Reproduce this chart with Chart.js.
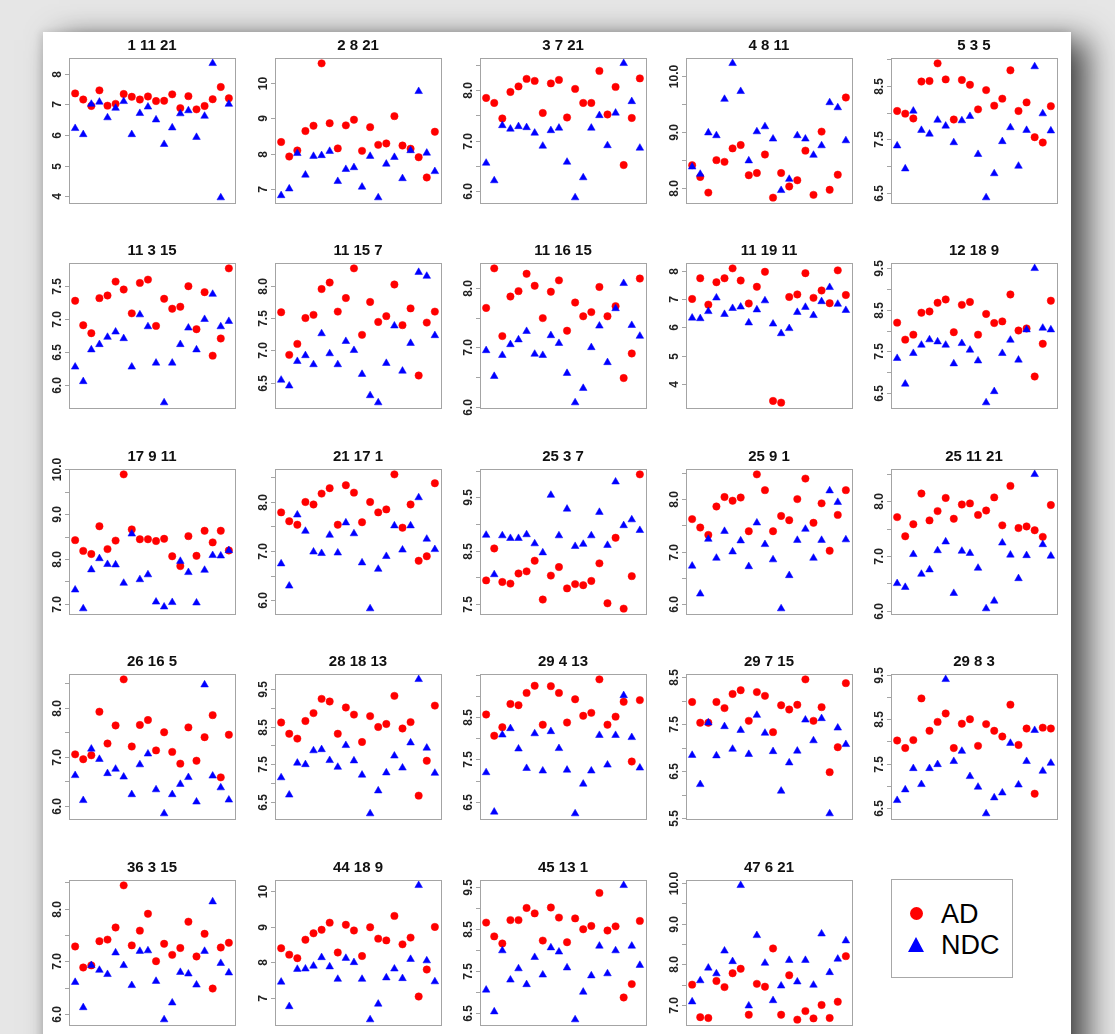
<!DOCTYPE html>
<html>
<head>
<meta charset="utf-8">
<title>AD vs NDC panels</title>
<script src="https://cdn.jsdelivr.net/npm/chart.js@4.4.1/dist/chart.umd.min.js"></script>
<style>
  html, body { margin: 0; padding: 0; }
  body {
    width: 1115px; height: 1034px; overflow: hidden; position: relative;
    background: #e6e6e6;
    font-family: "Liberation Sans", Arial, sans-serif;
  }
  #paper {
    position: absolute; left: 43px; top: 32px; width: 1028px; height: 1100px;
    background: #fff;
    box-shadow: 16px 8px 30px rgba(0, 0, 0, 0.7), -2px 0 8px rgba(0, 0, 0, 0.12);
  }
  canvas.panel { position: absolute; }
  #legend {
    position: absolute; left: 891px; top: 879px; width: 120px; height: 97px;
    border: 1px solid #a8a8a8; background: #fff;
  }
  #legend .dot {
    position: absolute; left: 18px; top: 27px; width: 13px; height: 13px;
    border-radius: 50%; background: #ff0000;
  }
  #legend .tri {
    position: absolute; left: 16px; top: 57px; width: 0; height: 0;
    border-left: 8.5px solid transparent; border-right: 8.5px solid transparent;
    border-bottom: 15px solid #0000ff;
  }
  #legend .txt {
    position: absolute; left: 49px; font-size: 27px; line-height: 27px; color: #000;
  }
</style>
</head>
<body>
<div id="paper"></div>
<div id="legend">
  <div class="dot"></div><div class="txt" style="top:21px">AD</div>
  <div class="tri"></div><div class="txt" style="top:52px">NDC</div>
</div>

<script>
// =============================
// Data
// =============================
const sampleIndex = [1, 2, 3, 4, 5, 6, 7, 8, 9, 10, 11, 12, 13, 14, 15, 16, 17, 18, 19, 20];

const panelTitles = [
  "1 11 21", "2 8 21", "3 7 21", "4 8 11", "5 3 5",
  "11 3 15", "11 15 7", "11 16 15", "11 19 11", "12 18 9",
  "17 9 11", "21 17 1", "25 3 7", "25 9 1", "25 11 21",
  "26 16 5", "28 18 13", "29 4 13", "29 7 15", "29 8 3",
  "36 3 15", "44 18 9", "45 13 1", "47 6 21"
];

const adValues = [
  [7.36, 7.16, 6.95, 7.46, 6.96, 7.02, 7.34, 7.25, 7.16, 7.26, 7.11, 7.12, 7.33, 6.88, 7.27, 6.84, 6.95, 7.17, 7.57, 7.20],
  [8.33, 7.92, 8.09, 8.64, 8.79, 10.55, 8.86, 8.15, 8.80, 8.96, 8.08, 8.75, 8.25, 8.29, 9.06, 8.23, 8.14, 7.90, 7.33, 8.62],
  [7.85, 7.75, 7.44, 7.97, 8.08, 8.23, 8.19, 7.55, 8.14, 8.21, 7.46, 8.03, 7.75, 7.75, 8.39, 7.52, 8.07, 6.51, 7.45, 8.24],
  [8.40, 8.19, 7.91, 8.49, 8.46, 8.70, 8.76, 8.22, 8.26, 8.59, 7.82, 8.26, 8.02, 8.13, 8.66, 7.87, 9.00, 7.96, 8.23, 9.61],
  [8.03, 7.98, 7.89, 8.58, 8.59, 8.92, 8.62, 7.87, 8.61, 8.52, 8.06, 8.42, 8.13, 8.26, 8.79, 8.03, 8.19, 7.54, 7.44, 8.12],
  [7.27, 6.90, 6.78, 7.31, 7.35, 7.56, 7.44, 7.08, 7.54, 7.59, 6.89, 7.30, 7.15, 7.18, 7.49, 6.84, 7.40, 6.44, 6.70, 7.76],
  [7.59, 6.93, 7.10, 7.50, 7.55, 7.95, 8.05, 7.60, 7.81, 8.27, 7.24, 7.75, 7.44, 7.53, 8.02, 7.39, 7.65, 6.61, 7.43, 7.60],
  [7.66, 8.32, 7.19, 7.85, 7.94, 8.23, 8.03, 7.49, 7.93, 8.12, 7.28, 7.75, 7.52, 7.59, 8.01, 7.52, 7.69, 6.49, 6.90, 8.15],
  [7.00, 7.73, 6.80, 7.59, 7.73, 8.08, 7.65, 6.84, 7.43, 7.96, 3.40, 3.34, 7.07, 7.16, 7.91, 7.04, 7.30, 6.85, 8.01, 7.14],
  [8.19, 7.78, 7.90, 8.43, 8.46, 8.67, 8.75, 7.96, 8.62, 8.69, 7.90, 8.40, 8.18, 8.22, 8.87, 8.00, 8.05, 6.89, 7.68, 8.72],
  [8.42, 8.18, 8.11, 8.73, 8.22, 8.41, 9.89, 8.66, 8.44, 8.44, 8.40, 8.45, 8.06, 7.84, 8.51, 8.07, 8.63, 8.37, 8.63, 8.19],
  [7.78, 7.60, 7.53, 7.99, 7.94, 8.16, 8.27, 7.53, 8.33, 8.18, 7.58, 7.99, 7.78, 7.84, 8.55, 7.47, 7.94, 6.80, 6.89, 8.37],
  [7.94, 8.54, 7.91, 7.88, 8.07, 8.11, 8.31, 7.58, 8.03, 8.19, 7.79, 7.87, 7.85, 7.93, 8.26, 7.51, 8.74, 7.41, 8.02, 9.93],
  [7.62, 7.46, 7.32, 7.86, 8.04, 7.97, 8.03, 7.39, 8.47, 8.17, 7.39, 7.68, 7.60, 8.00, 8.39, 7.55, 7.92, 7.02, 7.70, 8.17],
  [7.71, 7.36, 7.58, 8.14, 7.65, 7.82, 8.06, 7.68, 7.94, 7.96, 7.75, 7.83, 8.07, 7.56, 8.28, 7.51, 7.54, 7.47, 7.35, 7.93],
  [7.05, 6.95, 7.03, 7.92, 7.27, 7.64, 8.58, 7.21, 7.65, 7.75, 7.13, 7.50, 7.10, 6.86, 7.60, 6.92, 7.40, 7.85, 6.58, 7.45],
  [8.61, 8.31, 8.18, 8.65, 8.86, 9.24, 9.17, 8.31, 9.01, 8.82, 8.09, 8.78, 8.49, 8.57, 9.32, 8.45, 8.62, 6.66, 7.59, 9.06],
  [8.56, 8.06, 8.26, 8.81, 8.78, 9.07, 9.24, 8.32, 9.23, 9.07, 8.37, 8.92, 8.53, 8.60, 9.39, 8.32, 8.51, 8.86, 7.45, 8.90],
  [7.97, 7.53, 7.53, 7.97, 7.84, 8.14, 8.22, 7.57, 8.18, 8.10, 7.33, 7.90, 7.81, 7.91, 8.45, 7.57, 7.86, 6.48, 7.01, 8.37],
  [8.02, 7.85, 8.03, 8.97, 8.24, 8.44, 8.63, 7.85, 8.40, 8.50, 7.90, 8.39, 8.24, 8.11, 8.83, 7.92, 8.29, 6.82, 8.31, 8.29],
  [7.28, 6.88, 6.92, 7.38, 7.41, 7.64, 8.44, 7.30, 7.58, 7.90, 7.00, 7.33, 7.12, 7.25, 7.75, 7.09, 7.52, 6.48, 7.26, 7.35],
  [8.40, 8.22, 8.12, 8.64, 8.82, 8.92, 9.12, 8.28, 9.06, 8.90, 8.18, 8.99, 8.67, 8.62, 9.31, 8.51, 8.70, 7.04, 7.80, 9.00],
  [8.66, 8.33, 8.16, 8.72, 8.72, 9.01, 8.88, 8.23, 9.02, 8.78, 8.19, 8.76, 8.50, 8.58, 9.37, 8.47, 8.57, 6.87, 7.19, 8.70],
  [7.50, 6.70, 6.68, 7.59, 7.44, 7.78, 7.89, 6.76, 7.52, 7.45, 8.39, 6.76, 7.73, 6.64, 6.85, 6.67, 7.00, 6.68, 7.08, 8.20]
];

const ndcValues = [
  [6.22, 6.02, 7.01, 7.08, 6.57, 6.88, 7.10, 6.02, 6.71, 6.92, 6.50, 5.70, 6.24, 6.70, 6.80, 5.93, 6.62, 8.34, 3.96, 7.01],
  [6.82, 7.01, 8.01, 7.40, 7.93, 7.95, 8.07, 7.22, 7.56, 7.61, 7.06, 7.93, 6.76, 7.71, 7.90, 7.30, 8.09, 9.76, 8.02, 7.50],
  [6.55, 6.20, 7.30, 7.23, 7.28, 7.26, 7.15, 6.89, 7.20, 7.25, 6.57, 5.86, 6.26, 7.25, 7.50, 6.90, 7.55, 8.54, 7.78, 6.85],
  [8.37, 8.24, 8.98, 8.93, 9.58, 10.22, 9.72, 8.48, 9.00, 9.09, 8.87, 7.95, 8.15, 8.93, 8.87, 8.58, 8.75, 9.52, 9.43, 8.84],
  [7.38, 6.95, 8.03, 7.67, 7.60, 7.86, 7.75, 7.44, 7.85, 7.93, 7.22, 6.41, 6.86, 7.46, 7.72, 7.00, 7.67, 8.86, 7.98, 7.66],
  [6.27, 6.05, 6.53, 6.61, 6.72, 6.80, 6.70, 6.27, 7.06, 6.88, 6.33, 5.73, 6.33, 6.61, 6.86, 6.53, 6.99, 7.37, 6.88, 6.96],
  [6.54, 6.45, 6.83, 6.92, 6.78, 7.26, 6.95, 6.78, 7.14, 7.00, 6.63, 6.30, 6.19, 6.80, 7.38, 6.68, 7.11, 8.21, 8.15, 7.23],
  [6.95, 6.52, 6.87, 7.05, 7.13, 7.27, 6.89, 6.87, 7.20, 7.07, 6.57, 6.08, 6.32, 7.00, 7.36, 6.75, 7.65, 8.07, 7.37, 7.19],
  [6.33, 6.31, 6.56, 7.04, 6.46, 6.67, 6.72, 6.16, 6.62, 6.94, 6.12, 5.78, 5.96, 6.53, 6.71, 6.42, 6.91, 7.41, 6.82, 6.60],
  [7.33, 6.71, 7.45, 7.65, 7.78, 7.73, 7.65, 7.20, 7.69, 7.53, 7.27, 6.26, 6.53, 7.45, 7.77, 7.29, 8.02, 9.50, 8.06, 8.02],
  [7.31, 6.89, 7.76, 8.01, 7.88, 7.87, 7.46, 8.56, 7.54, 7.65, 7.04, 6.93, 7.03, 7.95, 7.70, 7.02, 7.75, 8.08, 8.07, 8.19],
  [6.74, 6.29, 7.73, 7.40, 6.98, 6.95, 7.32, 6.96, 7.57, 7.35, 6.76, 5.83, 6.63, 6.89, 7.51, 7.02, 7.51, 8.08, 7.24, 7.03],
  [8.79, 8.05, 8.78, 8.73, 8.73, 8.80, 8.63, 8.46, 9.54, 8.78, 9.28, 8.58, 8.62, 8.78, 9.22, 8.60, 9.79, 8.97, 9.08, 8.88],
  [6.73, 6.20, 7.24, 6.88, 7.39, 7.00, 7.21, 6.72, 7.55, 7.14, 6.85, 5.92, 6.55, 7.22, 7.43, 6.88, 7.22, 8.16, 7.94, 7.23],
  [6.50, 6.43, 7.03, 6.67, 6.75, 7.10, 7.26, 6.32, 7.09, 7.05, 6.78, 6.04, 6.18, 7.24, 7.02, 6.59, 7.01, 8.49, 7.21, 7.00],
  [6.62, 6.11, 7.16, 6.95, 6.66, 6.75, 6.59, 6.23, 6.84, 7.06, 6.33, 5.84, 6.23, 6.44, 6.58, 6.08, 8.47, 6.61, 6.37, 6.12],
  [7.14, 6.68, 7.53, 7.49, 7.86, 7.89, 7.60, 7.42, 8.00, 7.59, 7.21, 6.18, 6.79, 7.27, 7.72, 7.40, 8.07, 9.76, 7.93, 7.26],
  [7.19, 6.26, 8.08, 8.23, 7.75, 7.29, 8.11, 7.23, 8.16, 7.76, 7.25, 6.22, 6.92, 7.23, 8.07, 7.37, 8.07, 9.01, 8.02, 7.30],
  [6.84, 6.22, 7.53, 6.83, 7.45, 6.97, 7.37, 6.86, 7.69, 7.31, 6.92, 6.08, 6.68, 6.93, 7.59, 7.15, 7.62, 5.60, 7.42, 7.07],
  [6.67, 6.91, 7.39, 7.03, 7.39, 7.48, 9.40, 7.55, 7.78, 7.21, 6.97, 6.37, 6.73, 6.84, 7.96, 7.02, 7.55, 8.25, 7.33, 7.51],
  [6.60, 6.12, 6.92, 6.83, 6.75, 7.16, 6.92, 6.54, 7.19, 7.20, 6.62, 5.89, 6.21, 6.79, 6.76, 6.55, 7.19, 8.13, 6.96, 6.78],
  [7.45, 6.76, 7.81, 7.82, 7.90, 8.14, 7.88, 7.53, 8.12, 8.00, 7.53, 6.39, 6.83, 7.57, 7.82, 7.55, 8.09, 10.17, 8.05, 7.46],
  [7.05, 6.53, 7.99, 7.29, 7.56, 7.18, 7.83, 7.41, 8.06, 7.96, 7.58, 6.34, 7.00, 7.39, 8.10, 7.44, 7.99, 9.55, 8.10, 7.64],
  [7.08, 7.60, 7.91, 7.77, 8.33, 8.07, 9.94, 6.98, 8.71, 8.03, 7.11, 7.47, 8.10, 7.57, 8.10, 7.49, 8.75, 7.80, 8.13, 8.58]
];

// y ticks per panel; "" = tick mark without a label
const tickValues = [
  [4, 5, 6, 7, 8],
  [7, 8, 9, 10],
  [6, 6.5, 7, 7.5, 8, 8.5],
  [8, 8.5, 9, 9.5, 10],
  [6.5, 7, 7.5, 8, 8.5, 9],
  [6, 6.5, 7, 7.5],
  [6.5, 7, 7.5, 8],
  [6, 6.5, 7, 7.5, 8],
  [4, 5, 6, 7, 8],
  [6.5, 7, 7.5, 8, 8.5, 9, 9.5],
  [7, 7.5, 8, 8.5, 9, 9.5, 10],
  [6, 6.5, 7, 7.5, 8, 8.5],
  [7.5, 8, 8.5, 9, 9.5, 10],
  [6, 6.5, 7, 7.5, 8, 8.5],
  [6, 6.5, 7, 7.5, 8, 8.5],
  [6, 6.5, 7, 7.5, 8, 8.5],
  [6.5, 7, 7.5, 8, 8.5, 9, 9.5],
  [6.5, 7, 7.5, 8, 8.5, 9, 9.5],
  [5.5, 6, 6.5, 7, 7.5, 8, 8.5],
  [6.5, 7, 7.5, 8, 8.5, 9, 9.5],
  [6, 6.5, 7, 7.5, 8, 8.5],
  [7, 8, 9, 10],
  [6.5, 7, 7.5, 8, 8.5, 9, 9.5],
  [7, 7.5, 8, 8.5, 9, 9.5, 10]
];

const tickLabels = [
  ["4", "5", "6", "7", "8"],
  ["7", "8", "9", "10"],
  ["6.0", "", "7.0", "", "8.0", ""],
  ["8.0", "", "9.0", "", "10.0"],
  ["6.5", "", "7.5", "", "8.5", ""],
  ["6.0", "6.5", "7.0", "7.5"],
  ["6.5", "7.0", "7.5", "8.0"],
  ["6.0", "", "7.0", "", "8.0"],
  ["4", "5", "6", "7", "8"],
  ["6.5", "", "7.5", "", "8.5", "", "9.5"],
  ["7.0", "", "8.0", "", "9.0", "", "10.0"],
  ["6.0", "", "7.0", "", "8.0", ""],
  ["7.5", "", "8.5", "", "9.5", ""],
  ["6.0", "", "7.0", "", "8.0", ""],
  ["6.0", "", "7.0", "", "8.0", ""],
  ["6.0", "", "7.0", "", "8.0", ""],
  ["6.5", "", "7.5", "", "8.5", "", "9.5"],
  ["6.5", "", "7.5", "", "8.5", "", ""],
  ["5.5", "", "6.5", "", "7.5", "", "8.5"],
  ["6.5", "", "7.5", "", "8.5", "", "9.5"],
  ["6.0", "", "7.0", "", "8.0", ""],
  ["7", "8", "9", "10"],
  ["6.5", "", "7.5", "", "8.5", "", "9.5"],
  ["7.0", "", "8.0", "", "9.0", "", "10.0"]
];

// =============================
// R-style box, outward ticks, vertical tick labels
// =============================
const rAxisPlugin = {
  id: "rAxis",
  beforeDatasetsDraw(chart, args, opts) {
    const { ctx, chartArea: a } = chart;
    const y = chart.scales.y;
    ctx.save();
    ctx.strokeStyle = "#a4a4a4";
    ctx.lineWidth = 1;
    ctx.strokeRect(a.left + 0.5, a.top + 0.5, a.right - a.left, a.bottom - a.top);

    ctx.font = 'bold 12px "Liberation Sans", Arial, sans-serif';
    ctx.fillStyle = "#222";
    ctx.textAlign = "center";
    ctx.textBaseline = "middle";
    y.ticks.forEach(t => {
      const py = Math.round(y.getPixelForValue(t.value)) + 0.5;
      ctx.beginPath();
      ctx.moveTo(a.left - 4, py);
      ctx.lineTo(a.left + 0.5, py);
      ctx.stroke();
      const idx = opts.values.indexOf(t.value);
      const label = idx >= 0 ? opts.labels[idx] : "";
      if (label) {
        ctx.save();
        ctx.translate(a.left - 11, py);
        ctx.rotate(-Math.PI / 2);
        ctx.fillText(label, 0, 0);
        ctx.restore();
      }
    });
    ctx.restore();
  }
};

// =============================
// Build the 24 panels
// =============================
const CELL_W = 205.6, CELL_H = 205.4, ORIGIN_X = 43, ORIGIN_Y = 32;

panelTitles.forEach((title, i) => {
  const col = i % 5, row = Math.floor(i / 5);
  const canvas = document.createElement("canvas");
  canvas.className = "panel";
  canvas.width = 205;
  canvas.height = 205;
  canvas.style.left = Math.round(ORIGIN_X + CELL_W * col) + "px";
  canvas.style.top = Math.round(ORIGIN_Y + CELL_H * row) + "px";
  document.body.appendChild(canvas);

  const ad = adValues[i], ndc = ndcValues[i];
  const lo = Math.min(...ad, ...ndc), hi = Math.max(...ad, ...ndc);
  const pad = (hi - lo) * 0.04;
  const xPad = (sampleIndex[sampleIndex.length - 1] - sampleIndex[0]) * 0.04;
  const ticks = tickValues[i];

  new Chart(canvas, {
    type: "scatter",
    data: {
      datasets: [
        {
          label: "AD",
          data: ad.map((v, k) => ({ x: sampleIndex[k], y: v })),
          pointStyle: "circle",
          pointRadius: 3.7,
          backgroundColor: "#ff0000",
          borderColor: "#ff0000",
          borderWidth: 0.5,
          order: 1
        },
        {
          label: "NDC",
          data: ndc.map((v, k) => ({ x: sampleIndex[k], y: v })),
          pointStyle: "triangle",
          pointRadius: 4.4,
          backgroundColor: "#0000ff",
          borderColor: "#0000ff",
          borderWidth: 0.5,
          order: 0
        }
      ]
    },
    options: {
      responsive: false,
      animation: false,
      events: [],
      layout: { padding: { left: 0, right: 13, top: 0, bottom: 34 } },
      plugins: {
        legend: { display: false },
        tooltip: { enabled: false },
        title: {
          display: true,
          fullSize: false,
          text: title,
          color: "#111",
          font: { family: '"Liberation Sans", Arial, sans-serif', size: 15, weight: "bold" },
          padding: { top: 5, bottom: 3 }
        },
        rAxis: { values: ticks, labels: tickLabels[i] }
      },
      scales: {
        x: {
          type: "linear",
          display: false,
          min: sampleIndex[0] - xPad,
          max: sampleIndex[sampleIndex.length - 1] + xPad
        },
        y: {
          type: "linear",
          min: lo - pad,
          max: hi + pad,
          grid: { display: false },
          border: { display: false },
          ticks: { display: false },
          afterBuildTicks: scale => {
            scale.ticks = ticks
              .filter(v => v >= scale.min && v <= scale.max)
              .map(v => ({ value: v }));
          },
          afterFit: scale => { scale.width = 26; }
        }
      }
    },
    plugins: [rAxisPlugin]
  });
});
</script>
</body>
</html>
